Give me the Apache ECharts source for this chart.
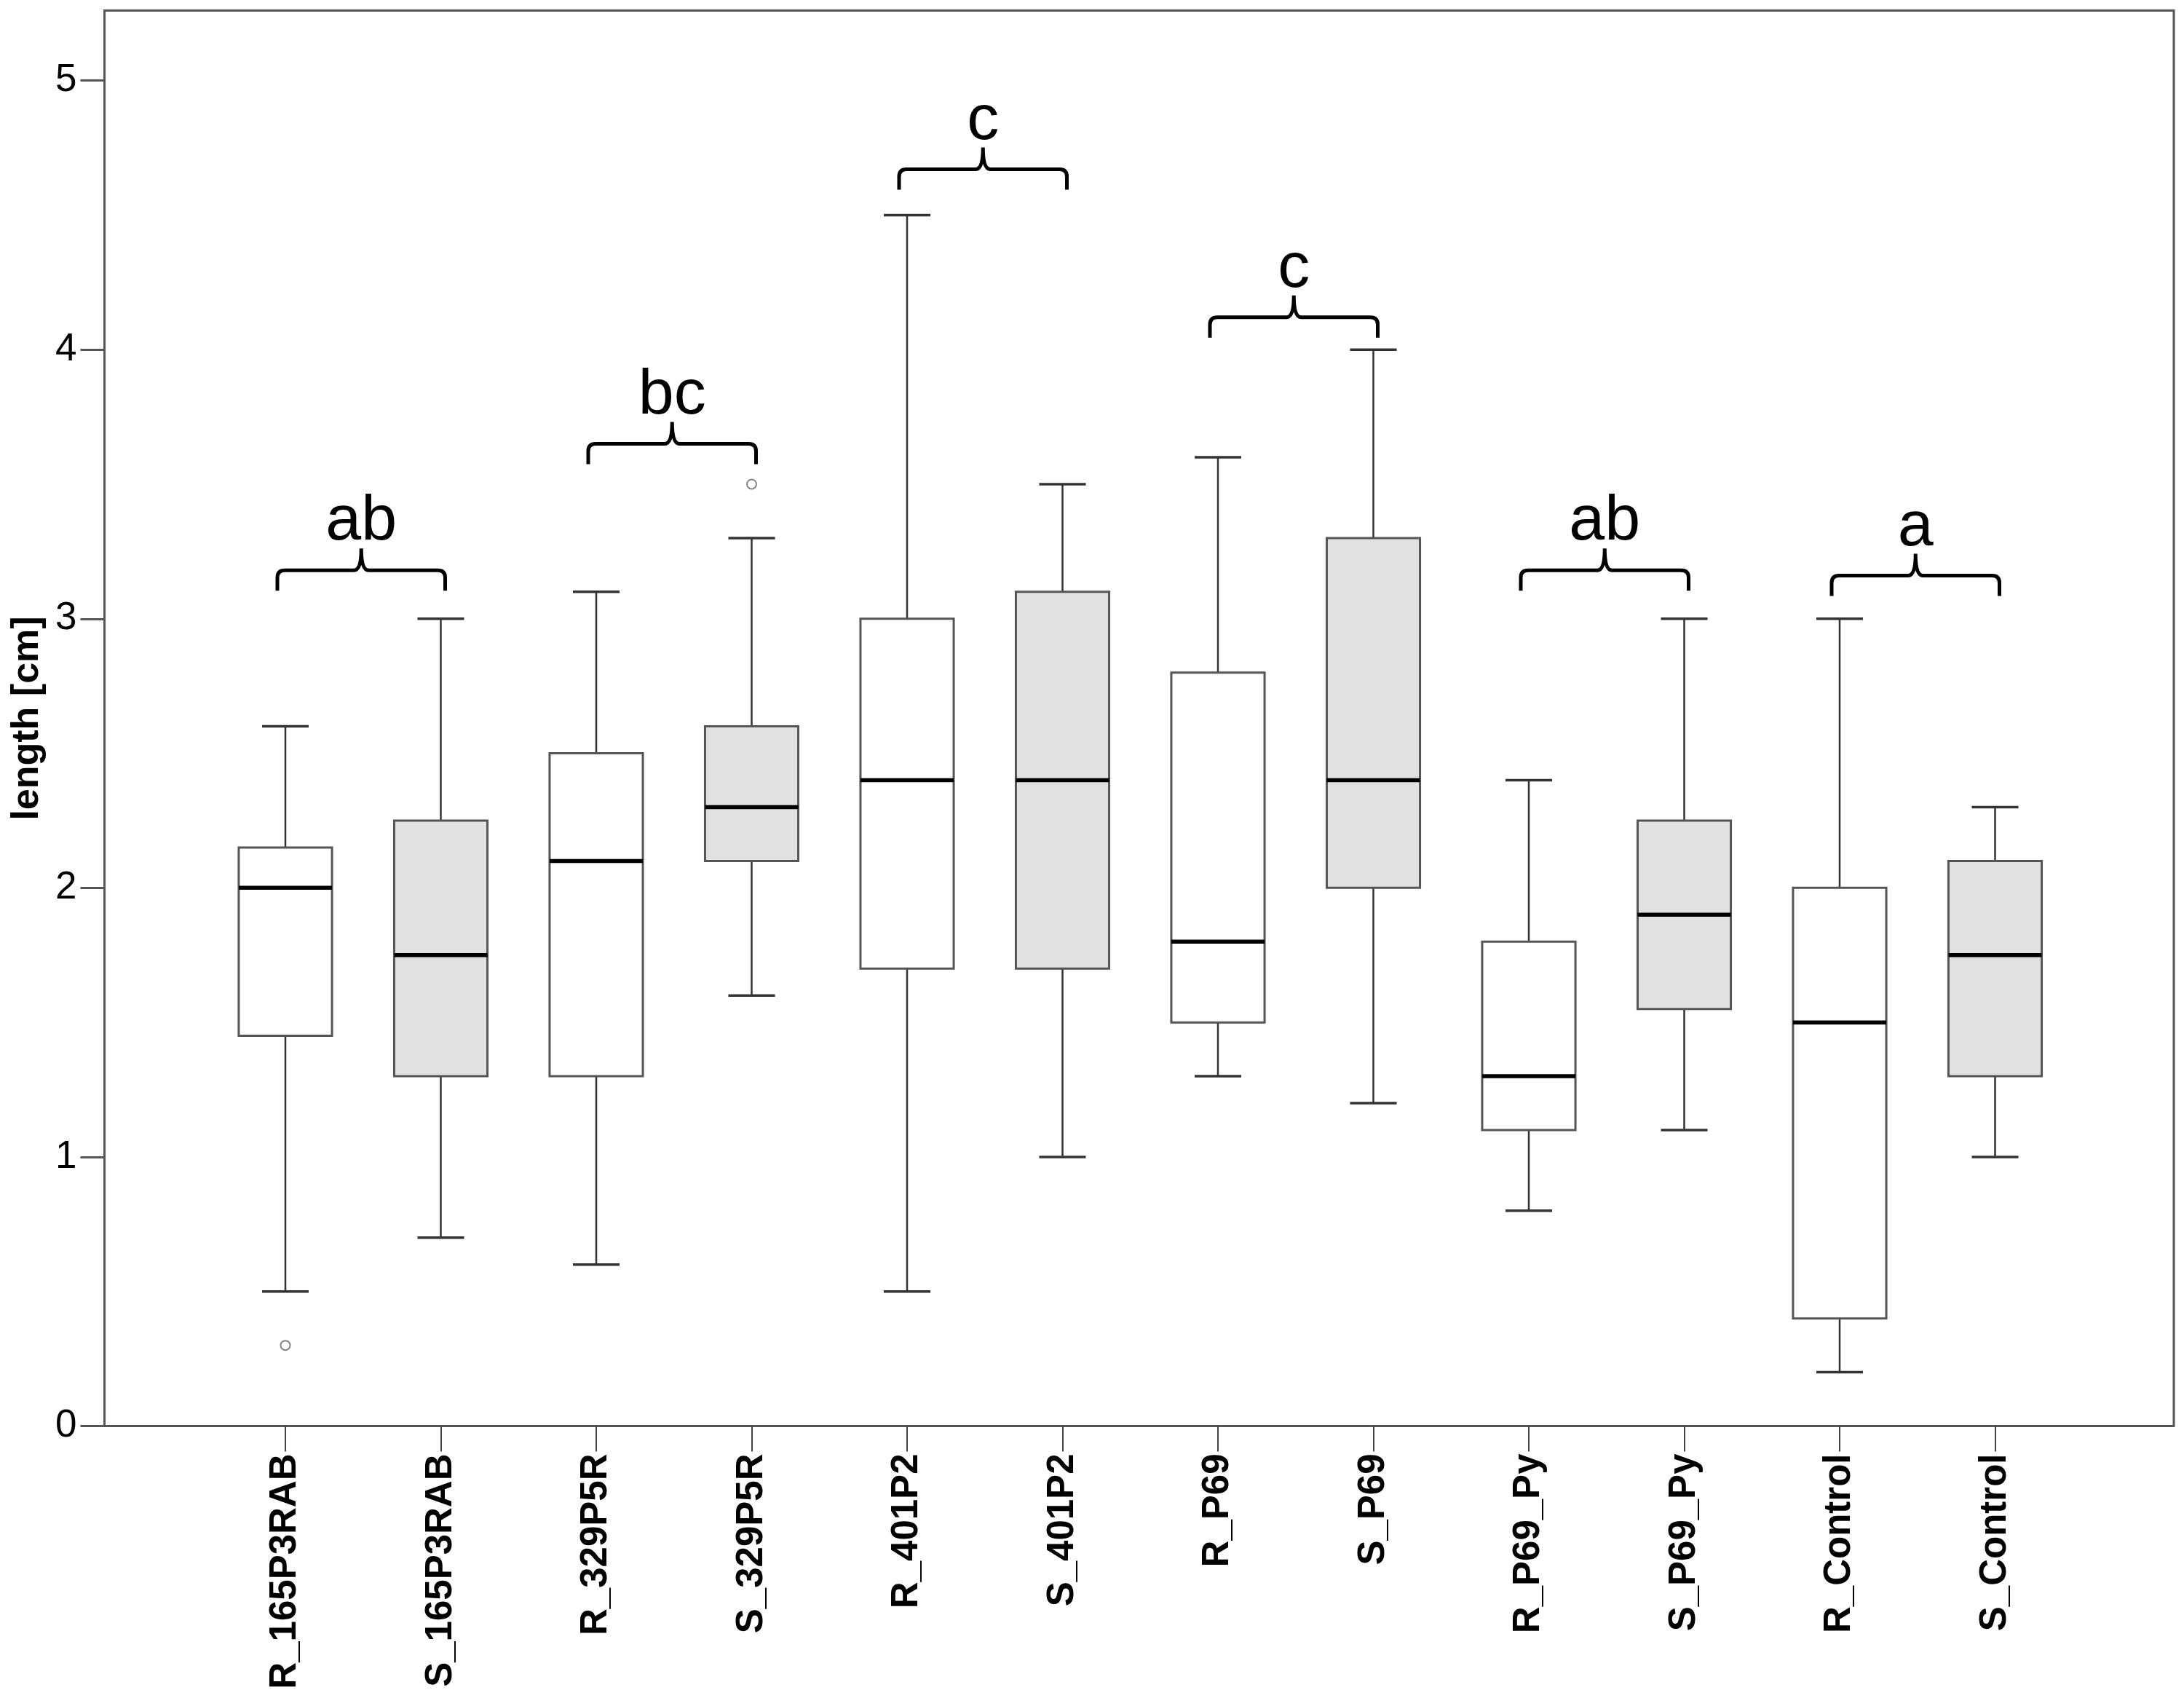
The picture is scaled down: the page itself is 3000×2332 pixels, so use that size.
<!DOCTYPE html>
<html lang="en">
<head>
    <meta charset="UTF-8">
    <title>length boxplot</title>
    <script src="https://cdn.jsdelivr.net/npm/echarts@6/dist/echarts.min.js"></script>
    <style>
        body { margin: 0; background: #fff; }
    </style>
</head>
<body>
<div id="main" style="width: 3000px;height: 2332px;"></div>

<script type="text/javascript">
    // groups on the x axis
    var categories = ['R_165P3RAB', 'S_165P3RAB', 'R_329P5R', 'S_329P5R', 'R_401P2', 'S_401P2',
        'R_P69', 'S_P69', 'R_P69_Py', 'S_P69_Py', 'R_Control', 'S_Control'];

    // five numbers per box
    var whiskerLow = [0.5, 0.7, 0.6, 1.6, 0.5, 1.0, 1.3, 1.2, 0.8, 1.1, 0.2, 1.0];
    var q1 = [1.45, 1.3, 1.3, 2.1, 1.7, 1.7, 1.5, 2.0, 1.1, 1.55, 0.4, 1.3];
    var median = [2.0, 1.75, 2.1, 2.3, 2.4, 2.4, 1.8, 2.4, 1.3, 1.9, 1.5, 1.75];
    var q3 = [2.15, 2.25, 2.5, 2.6, 3.0, 3.1, 2.8, 3.3, 1.8, 2.25, 2.0, 2.1];
    var whiskerHigh = [2.6, 3.0, 3.1, 3.3, 4.5, 3.5, 3.6, 4.0, 2.4, 3.0, 3.0, 2.3];

    // outliers (category index, value)
    var outlierCat = [0, 3];
    var outlierVal = [0.3, 3.5];

    // letters over each R/S pair
    var pairLetters = ['ab', 'bc', 'c', 'c', 'ab', 'a'];
    var pairBracketY = [3.18, 3.65, 4.67, 4.12, 3.18, 3.16];

    var yTicks = [0, 1, 2, 3, 4, 5];

    var FONT = '"Liberation Sans", Arial, sans-serif';

    var myChart = echarts.init(document.getElementById('main'));

    var boxData = categories.map(function (c, i) {
        return [i, whiskerLow[i], q1[i], median[i], q3[i], whiskerHigh[i]];
    });
    var outlierData = outlierCat.map(function (c, i) {
        return [c, outlierVal[i]];
    });
    var bracketData = pairLetters.map(function (t, i) {
        return [i, pairBracketY[i]];
    });

    function renderBox(params, api) {
        var i = api.value(0);
        var band = api.size([1, 0])[0];
        var w = band * 0.6;
        var cap = band * 0.3;
        var pLow = api.coord([i, api.value(1)]);
        var pQ1 = api.coord([i, api.value(2)]);
        var pMed = api.coord([i, api.value(3)]);
        var pQ3 = api.coord([i, api.value(4)]);
        var pHigh = api.coord([i, api.value(5)]);
        var x = pMed[0];
        var fill = i % 2 === 1 ? '#e1e1e1' : '#ffffff';
        var wStyle = {stroke: '#333', lineWidth: 2.5};
        return {
            type: 'group',
            children: [
                {type: 'line', shape: {x1: x, y1: pHigh[1], x2: x, y2: pQ3[1]}, style: wStyle},
                {type: 'line', shape: {x1: x, y1: pQ1[1], x2: x, y2: pLow[1]}, style: wStyle},
                {type: 'line', shape: {x1: x - cap / 2, y1: pHigh[1], x2: x + cap / 2, y2: pHigh[1]}, style: {stroke: '#333', lineWidth: 3.5}},
                {type: 'line', shape: {x1: x - cap / 2, y1: pLow[1], x2: x + cap / 2, y2: pLow[1]}, style: {stroke: '#333', lineWidth: 3.5}},
                {type: 'rect', shape: {x: x - w / 2, y: pQ3[1], width: w, height: pQ1[1] - pQ3[1]},
                    style: {fill: fill, stroke: '#555', lineWidth: 3}},
                {type: 'line', shape: {x1: x - w / 2, y1: pMed[1], x2: x + w / 2, y2: pMed[1]}, style: {stroke: '#000', lineWidth: 5.5}}
            ]
        };
    }

    function renderBracket(params, api) {
        var p = api.value(0);
        var y = api.value(1);
        var a = api.coord([2 * p, y]);
        var b = api.coord([2 * p + 1, y]);
        var x0 = a[0] - 11, x1 = b[0] + 6, yl = a[1];
        var xm = (x0 + x1) / 2;
        var d = 'M' + x0 + ' ' + (yl + 28) +
            ' L' + x0 + ' ' + (yl + 10) +
            ' Q' + x0 + ' ' + yl + ' ' + (x0 + 10) + ' ' + yl +
            ' L' + (xm - 10) + ' ' + yl +
            ' Q' + xm + ' ' + yl + ' ' + xm + ' ' + (yl - 30) +
            ' Q' + xm + ' ' + yl + ' ' + (xm + 10) + ' ' + yl +
            ' L' + (x1 - 10) + ' ' + yl +
            ' Q' + x1 + ' ' + yl + ' ' + x1 + ' ' + (yl + 10) +
            ' L' + x1 + ' ' + (yl + 28);
        return {
            type: 'group',
            children: [
                {type: 'path', shape: {pathData: d}, style: {fill: null, stroke: '#000', lineWidth: 5}},
                {type: 'text', style: {x: xm, y: yl - 22, text: pairLetters[p], fontSize: 88, fontFamily: FONT,
                        align: 'center', verticalAlign: 'bottom', fill: '#000'}}
            ]
        };
    }

    var option = {
        backgroundColor: '#fff',
        animation: false,
        grid: [
            { // frame + y axis
                left: 143.5, right: 14, top: 14.5, bottom: 373.5,
                show: true, borderColor: '#555', borderWidth: 3, backgroundColor: 'transparent'
            },
            { // data area, narrower so categories sit as in the original
                left: 285.25, right: 152.75, top: 14.5, bottom: 373.5
            }
        ],
        xAxis: [
            {
                gridIndex: 0, type: 'value', min: 0, max: 1,
                axisLine: {show: false}, axisTick: {show: false}, axisLabel: {show: false}, splitLine: {show: false}
            },
            {
                gridIndex: 1, type: 'category', data: categories, boundaryGap: true,
                axisLine: {show: false},
                axisTick: {show: true, alignWithLabel: true, length: 35, lineStyle: {color: '#444', width: 2}},
                axisLabel: {rotate: 90, margin: 38, fontSize: 51, fontWeight: 'bold', fontFamily: FONT, color: '#000', interval: 0},
                splitLine: {show: false}
            }
        ],
        yAxis: [
            {
                gridIndex: 0, type: 'value', min: 0, max: 5.26, interval: 1,
                name: 'length [cm]', nameLocation: 'middle', nameGap: 80, nameRotate: 90,
                nameTextStyle: {fontSize: 52, fontWeight: 'bold', fontFamily: FONT, color: '#000'},
                axisLine: {show: false},
                axisTick: {show: true, inside: false, length: 33, customValues: yTicks, lineStyle: {color: '#555', width: 3}},
                axisLabel: {margin: 38, fontSize: 53, fontFamily: FONT, color: '#000', customValues: yTicks},
                splitLine: {show: false}
            },
            {
                gridIndex: 1, type: 'value', min: 0, max: 5.26, show: false, splitLine: {show: false}
            }
        ],
        series: [
            {
                type: 'custom', name: 'box', xAxisIndex: 1, yAxisIndex: 1,
                renderItem: renderBox, data: boxData, clip: false,
                encode: {x: 0, y: [1, 2, 3, 4, 5]}
            },
            {
                type: 'scatter', name: 'outliers', xAxisIndex: 1, yAxisIndex: 1,
                data: outlierData, symbol: 'emptyCircle', symbolSize: 13,
                itemStyle: {color: '#666', borderColor: '#666', borderWidth: 2}
            },
            {
                type: 'custom', name: 'letters', xAxisIndex: 1, yAxisIndex: 1,
                renderItem: renderBracket, data: bracketData, clip: false,
                encode: {x: 0, y: 1}
            }
        ]
    };

    myChart.setOption(option);
</script>
</body>
</html>
